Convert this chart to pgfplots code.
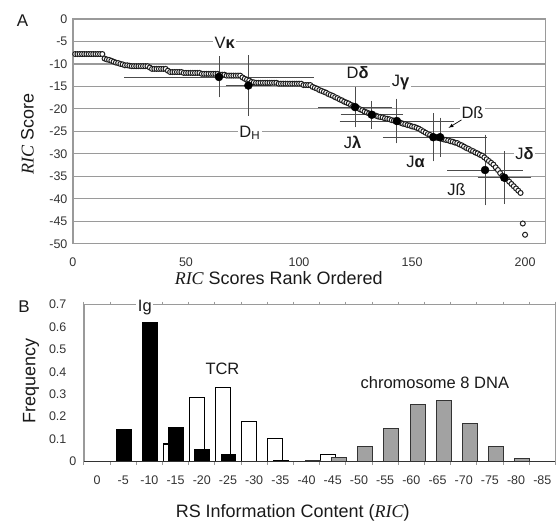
\documentclass[border=0pt]{standalone}
\usepackage{pgfplots}
\usepackage{pgfplotstable}
\pgfplotsset{compat=1.18}
\usepackage{fontspec}
\setmainfont{Liberation Sans}
\newfontfamily\tnr{Liberation Serif}
\newcommand{\RIC}{{\tnr\itshape RIC}}
\definecolor{txt}{HTML}{1A1A1A}
\definecolor{tickc}{HTML}{333333}
\definecolor{gridc}{HTML}{9A9A9A}
\definecolor{barg}{HTML}{A2A2A2}

\pgfplotstableread[row sep=\\]{
r s \\
1 -7.8 \\ 2 -7.8 \\ 3 -7.8 \\ 4 -7.8 \\ 5 -7.8 \\ 6 -7.8 \\ 7 -7.8 \\ 8 -7.8 \\ 9 -7.8 \\ 10 -7.8 \\
11 -7.8 \\ 12 -7.8 \\ 13 -7.8 \\ 14 -8.8 \\ 15 -9.0 \\ 16 -9.1 \\ 17 -9.3 \\ 18 -9.5 \\ 19 -9.7 \\ 20 -9.8 \\
21 -10.0 \\ 22 -10.1 \\ 23 -10.3 \\ 24 -10.3 \\ 25 -10.4 \\ 26 -10.5 \\ 27 -10.5 \\ 28 -10.5 \\ 29 -10.5 \\ 30 -10.5 \\
31 -10.5 \\ 32 -10.5 \\ 33 -10.5 \\ 34 -10.8 \\ 35 -11.1 \\ 36 -11.1 \\ 37 -11.1 \\ 38 -11.1 \\ 39 -11.1 \\ 40 -11.1 \\
41 -11.1 \\ 42 -11.5 \\ 43 -11.8 \\ 44 -11.8 \\ 45 -11.8 \\ 46 -11.8 \\ 47 -11.8 \\ 48 -11.8 \\ 49 -12.0 \\ 50 -12.0 \\
51 -12.0 \\ 52 -12.0 \\ 53 -12.0 \\ 54 -12.0 \\ 55 -12.0 \\ 56 -12.0 \\ 57 -12.2 \\ 58 -12.2 \\ 59 -12.2 \\ 60 -12.2 \\
61 -12.2 \\ 62 -12.2 \\ 63 -12.2 \\ 64 -12.2 \\ 65 -12.4 \\ 66 -12.4 \\ 67 -12.4 \\ 68 -12.6 \\ 69 -12.6 \\ 70 -12.6 \\
71 -12.6 \\ 72 -12.6 \\ 73 -12.6 \\ 74 -12.6 \\ 75 -13.0 \\ 76 -13.3 \\ 77 -13.5 \\ 78 -13.7 \\ 79 -14.0 \\ 80 -14.1 \\
81 -14.2 \\ 82 -14.2 \\ 83 -14.2 \\ 84 -14.2 \\ 85 -14.2 \\ 86 -14.2 \\ 87 -14.2 \\ 88 -14.2 \\ 89 -14.2 \\ 90 -14.2 \\
91 -14.4 \\ 92 -14.4 \\ 93 -14.4 \\ 94 -14.4 \\ 95 -14.4 \\ 96 -14.4 \\ 97 -14.4 \\ 98 -14.4 \\ 99 -14.4 \\ 100 -14.4 \\
101 -14.4 \\ 102 -14.7 \\ 103 -14.7 \\ 104 -14.7 \\ 105 -14.7 \\ 106 -15.1 \\ 107 -15.3 \\ 108 -15.5 \\ 109 -15.8 \\ 110 -16.0 \\
111 -16.2 \\ 112 -16.4 \\ 113 -16.7 \\ 114 -16.9 \\ 115 -17.1 \\ 116 -17.4 \\ 117 -17.6 \\ 118 -17.9 \\ 119 -18.1 \\ 120 -18.4 \\
121 -18.6 \\ 122 -18.8 \\ 123 -19.1 \\ 124 -19.3 \\ 125 -19.6 \\ 126 -19.8 \\ 127 -20.1 \\ 128 -20.3 \\ 129 -20.6 \\ 130 -20.8 \\
131 -21.0 \\ 132 -21.3 \\ 133 -21.4 \\ 134 -21.5 \\ 135 -21.7 \\ 136 -21.8 \\ 137 -21.9 \\ 138 -22.1 \\ 139 -22.2 \\ 140 -22.3 \\
141 -22.5 \\ 142 -22.6 \\ 143 -22.8 \\ 144 -22.9 \\ 145 -23.1 \\ 146 -23.3 \\ 147 -23.4 \\ 148 -23.6 \\ 149 -23.7 \\ 150 -23.9 \\
151 -24.0 \\ 152 -24.2 \\ 153 -24.4 \\ 154 -24.7 \\ 155 -25.0 \\ 156 -25.3 \\ 157 -25.6 \\ 158 -25.8 \\ 159 -26.1 \\ 160 -26.2 \\
161 -26.4 \\ 162 -26.5 \\ 163 -26.6 \\ 164 -26.8 \\ 165 -26.9 \\ 166 -27.0 \\ 167 -27.2 \\ 168 -27.3 \\ 169 -27.5 \\ 170 -27.6 \\
171 -27.9 \\ 172 -28.1 \\ 173 -28.4 \\ 174 -28.7 \\ 175 -28.9 \\ 176 -29.2 \\ 177 -29.4 \\ 178 -29.7 \\ 179 -29.9 \\ 180 -30.2 \\
181 -30.4 \\ 182 -30.8 \\ 183 -31.2 \\ 184 -31.6 \\ 185 -32.0 \\ 186 -32.4 \\ 187 -33.0 \\ 188 -33.6 \\ 189 -34.3 \\ 190 -34.9 \\
191 -35.3 \\ 192 -35.7 \\ 193 -36.2 \\ 194 -36.7 \\ 195 -37.2 \\ 196 -37.7 \\ 197 -38.2 \\ 198 -38.7 \\ 199 -45.5 \\ 200 -48.0 \\
}\scores

\begin{document}
\begin{tikzpicture}
% background grid and frames (drawn first, under the data)
\begin{scope}[draw=gridc, line width=1.2bp]
\foreach \gy in {300.5,323,345.5,368,390.5,413,435.5,458,480.5}
  \draw (73bp,\gy bp) -- (546bp,\gy bp);
\draw (73bp,278bp) rectangle (546bp,503bp);
\draw (84bp,60bp) -- (84bp,217bp) -- (556bp,217bp) -- (556bp,60bp);
\end{scope}
% ---------------- Panel A ----------------
\begin{axis}[
  at={(73bp,278bp)}, anchor=south west, scale only axis,
  width=473bp, height=225bp,
  xmin=0, xmax=209, ymin=-50, ymax=0,
  xtick={0,50,100,150,200}, ytick={-50,-45,...,0},
  axis line style={draw=none},
  xtick style={draw=none},
  ytick style={draw=none},
  tick label style={font=\fontsize{12.5bp}{14bp}\selectfont, text=tickc},
  /pgf/number format/assume math mode=true,
  yticklabel style={xshift=-2bp},
  xticklabel style={yshift=-11bp},
  xlabel={\RIC{} Scores Rank Ordered}, ylabel={\RIC{} Score},
  label style={font=\fontsize{18bp}{20bp}\selectfont, text=txt},
  xlabel style={at={(axis description cs:0.4355,-0.151)}, anchor=center},
  ylabel style={at={(axis description cs:-0.0962,0.489)}, anchor=center},
]
\addplot[only marks, mark=*, mark size=2.5bp,
  mark options={draw=black!88, fill=white, line width=1bp}]
  table[x=r, y=s]{\scores};
\addplot[only marks, mark=*, mark size=4bp, black,
  error bars/.cd, x dir=both, x explicit, y dir=both, y explicit,
  error bar style={black!70, line width=0.9bp},
  error mark options={black!70, mark size=3bp, line width=0.9bp}]
  coordinates {
  (64.6,-12.9) +- (40.5,3.9)
  (77.6,-14.8) +- (8.6,6.1)
  (124.8,-19.6) +- (14.9,3.85)
  (132.2,-21.3) +- (12.5,2.4)
  (143.3,-22.7) +- (24,4.3)
  (159.4,-26.3) +- (21,4.7)
  (162.4,-26.3) +- (19.5,3.7)
  (182.3,-33.6) +- (15.4,7.2)
  (190.8,-35.3) +- (10.5,5.2)
  };
\end{axis}
% labels panel A
\begin{scope}[every node/.style={font=\fontsize{16.5bp}{18bp}\selectfont, text=txt, fill=white, inner sep=1.5bp}]
\node at (225bp,479bp) {V\textbf{κ}};
\node at (250bp,389bp) {D\textsubscript{H}};
\node at (358bp,449bp) {D\textbf{δ}};
\node at (401bp,439bp) {J\textbf{γ}};
\node at (473bp,409bp) {Dß};
\node at (353bp,379bp) {J\textbf{λ}};
\node at (416bp,360bp) {J\textbf{α}};
\node at (525bp,368bp) {J\textbf{δ}};
\node at (457bp,332bp) {Jß};
\end{scope}
\draw[-latex, black, line width=0.7bp] (462bp,402bp) -- (449bp,394bp);
\node[font=\fontsize{17bp}{19bp}\selectfont, text=txt] at (22.5bp,501bp) {A};
\node[font=\fontsize{17bp}{19bp}\selectfont, text=txt] at (24bp,215.5bp) {B};
% ---------------- Panel B ----------------
\begin{axis}[
  at={(84bp,60bp)}, anchor=south west, scale only axis,
  width=472bp, height=157bp,
  xmin=-0.5, xmax=17.5, ymin=0, ymax=0.7,
  xtick={0,...,17},
  xticklabels={0,-5,-10,-15,-20,-25,-30,-35,-40,-45,-50,-55,-60,-65,-70,-75,-80,-85},
  minor xtick={-0.5,0.5,...,17.5},
  ytick={0.1,0.2,0.3,0.4,0.5,0.6,0.7},
  yticklabels={0.1,0.2,0.3,0.4,0.5,0.6,0.7},
  extra y ticks={0}, extra y tick labels={0},
  extra y tick style={yticklabel style={xshift=10bp}},
  axis line style={draw=none},
  major tick length=0pt, minor tick length=3bp, tick align=outside,
  minor tick style={gridc, line width=1bp},
  tick label style={font=\fontsize{12.5bp}{14bp}\selectfont, text=tickc},
  yticklabel style={xshift=-14bp},
  xticklabel style={yshift=-11bp},
  xlabel={RS Information Content (\RIC)}, ylabel={Frequency},
  label style={font=\fontsize{18bp}{20bp}\selectfont, text=txt},
  xlabel style={at={(axis description cs:0.4428,-0.325)}, anchor=center},
  ylabel style={at={(axis description cs:-0.1123,0.511)}, anchor=center},
  clip=false,
]
\addplot[ybar, bar width=0.57, bar shift=-0.19, fill=white, draw=black, line width=1.1bp]
  coordinates {(3,0.078) (4,0.286) (5,0.332) (6,0.179) (7,0.104) (9,0.031)};
\addplot[ybar, bar width=0.57, bar shift=0.02, fill=black, draw=black, line width=1bp]
  coordinates {(1,0.145) (2,0.622) (3,0.152) (4,0.055) (5,0.031) (7,0.005)};
\addplot[ybar, bar width=0.57, bar shift=0.24, fill=barg, draw=black!80, line width=1bp]
  coordinates {(8,0.003) (9,0.018) (10,0.067) (11,0.149) (12,0.256) (13,0.272) (14,0.168) (15,0.067) (16,0.012)};
\draw[black!80, line width=1bp] (axis cs:-0.5,0) -- (axis cs:17.5,0);
\end{axis}
\begin{scope}[every node/.style={font=\fontsize{16.5bp}{18bp}\selectfont, text=txt, fill=white, inner sep=1.5bp}]
\node at (145bp,214bp) {Ig};
\node at (222.7bp,152.7bp) {TCR};
\node at (435.3bp,138.7bp) {chromosome 8 DNA};
\end{scope}
\useasboundingbox (0bp,0bp) rectangle (556bp,522bp);
\end{tikzpicture}
\end{document}
